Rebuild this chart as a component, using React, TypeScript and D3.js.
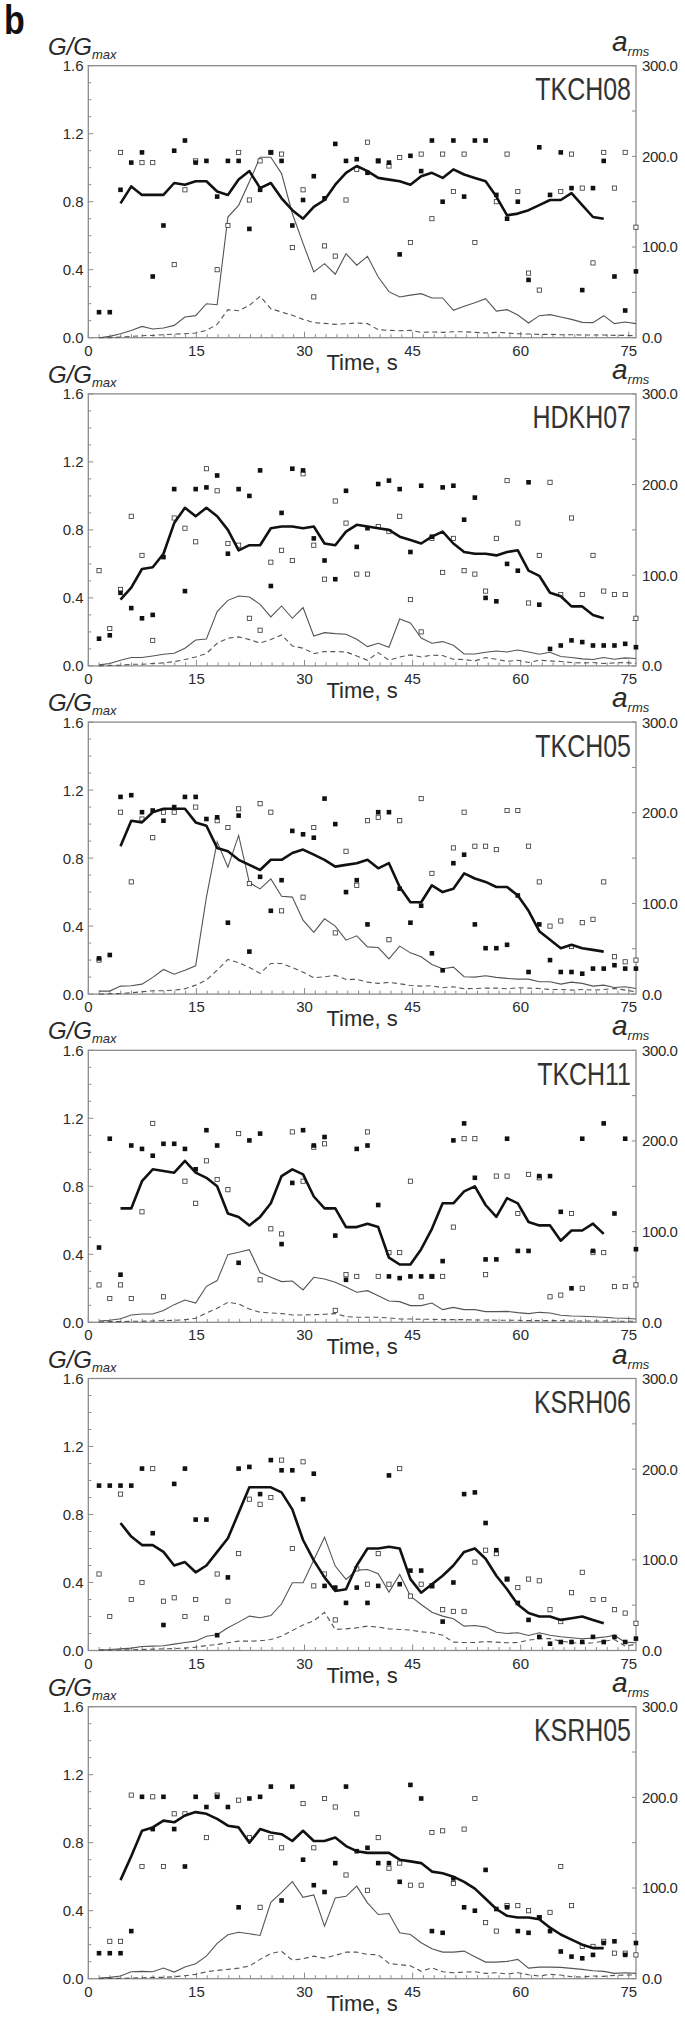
import React from 'react';
import * as d3 from 'd3';

// ---------- time grid (s) of the records ----------
const times = [1.49, 2.98, 4.47, 5.96, 7.45, 8.94, 10.43, 11.92, 13.41, 14.9, 16.39, 17.88, 19.37, 20.86, 22.35, 23.84, 25.33, 26.82, 28.31, 29.8, 31.29, 32.78, 34.27, 35.76, 37.25, 38.74, 40.23, 41.72, 43.21, 44.7, 46.19, 47.68, 49.17, 50.66, 52.15, 53.64, 55.13, 56.62, 58.11, 59.6, 61.09, 62.58, 64.07, 65.56, 67.05, 68.54, 70.03, 71.52, 73.01, 74.5, 75.99];
// the running-mean line starts at the third record
const MEAN_START = 2;

const xTicks = [0, 15, 30, 45, 60, 75];
const gTicks = [0, 0.4, 0.8, 1.2, 1.6];
const aTicks = [0, 100, 200, 300];

// ---------- TKCH08 ----------
const tkch08Filled = [0.15,0.15,0.87,1.03,1.09,0.36,0.66,1.10,1.16,1.03,1.04,0.83,1.04,1.04,0.64,0.87,1.09,1.04,0.66,0.81,0.95,0.82,1.14,1.04,1.05,0.97,1.04,1.03,0.49,1.07,0.98,1.16,0.80,1.16,0.83,1.16,1.16,0.84,0.70,0.80,0.34,1.12,0.84,1.09,0.88,0.28,0.88,1.04,0.36,0.16,0.39];
const tkch08Open = [null,null,1.09,null,1.03,1.03,null,0.43,0.87,1.04,null,0.40,0.66,1.09,0.81,1.04,1.09,1.08,0.53,0.87,0.24,0.54,0.48,0.81,0.99,1.15,1.04,1.01,1.06,0.56,1.08,0.70,1.08,0.86,1.08,0.56,null,0.80,1.08,0.86,0.38,0.28,null,0.86,1.08,0.88,0.44,1.09,0.88,1.09,0.65];
const tkch08Mean = [0.79,0.89,0.84,0.84,0.84,0.91,0.90,0.92,0.92,0.86,0.84,0.93,0.98,0.88,0.91,0.82,0.75,0.70,0.77,0.81,0.90,0.97,1.01,0.98,0.94,0.93,0.92,0.90,0.95,0.97,0.94,0.99,0.96,0.94,0.92,0.83,0.72,0.73,0.75,0.78,0.81,0.81,0.85,0.78,0.71,0.70];
const tkch08Arms = [0,1.5,4.4,8,12.5,9.6,10.7,13.6,22.8,24.3,37.5,36.4,133,146,172,199,199,181,137,104,72.5,81.7,70,92.7,80,89.8,67,50.8,44.9,47,48.6,43.8,43.8,30.2,34.6,38.6,43,29.4,30.9,25,16.2,24.3,25.4,22.8,20.2,16.9,16.6,24.3,15.5,17.3,15.5];
const tkch08Dash = [0,0,0.7,1.5,2.2,2.6,3.3,4,4.4,5.2,8.1,14.7,30.9,29.8,35.7,45.6,32,28.3,24.7,20.2,16.6,15.8,14.7,15.5,16.2,15.5,8.8,8.1,7.7,8.1,5.9,6.3,5.9,6.6,6.6,5.9,5.2,5.9,5.2,4.4,4,3.7,3.7,3.3,3.3,2.9,2.9,2.9,2.6,2.6,2.2];

// ---------- HDKH07 ----------
const hdkh07Filled = [0.16,0.18,0.43,0.34,0.28,0.30,0.64,1.04,0.44,1.04,1.05,1.12,0.66,1.04,1.00,1.15,0.47,0.90,1.16,1.15,0.75,0.62,0.51,1.03,0.70,0.81,1.07,1.09,1.04,0.67,1.06,0.76,1.05,1.06,0.86,0.99,0.40,0.38,0.60,0.56,1.08,0.36,0.10,0.12,0.15,0.14,0.12,0.12,0.12,0.13,0.11];
const hdkh07Open = [0.56,0.22,0.45,0.88,0.65,0.15,null,0.87,0.81,0.73,1.16,1.03,0.72,0.71,0.28,0.21,0.61,0.68,0.62,1.13,0.71,0.51,0.97,0.84,0.54,0.54,0.82,0.79,0.88,0.39,0.20,0.75,0.55,0.75,0.56,0.54,0.44,0.75,1.09,0.84,0.37,0.65,1.08,0.42,0.87,0.42,0.65,0.44,0.42,0.42,0.28];
const hdkh07Mean = [0.39,0.46,0.57,0.58,0.66,0.84,0.93,0.88,0.93,0.88,0.80,0.68,0.71,0.71,0.81,0.82,0.82,0.81,0.82,0.72,0.71,0.79,0.83,0.82,0.81,0.80,0.76,0.74,0.72,0.76,0.79,0.72,0.67,0.66,0.66,0.65,0.67,0.68,0.56,0.53,0.43,0.41,0.35,0.35,0.30,0.28];
const hdkh07Arms = [1.1,2.6,6.2,9.2,9.2,11,12.9,14,19.5,28.6,29.7,59.9,72.3,77.1,76,67.9,54,66.1,52.5,64.3,33,36.7,35.6,34.9,29.4,21.3,25,20.6,51.8,47.4,30.8,25,26.8,22.8,13.2,13.2,15.1,16.5,15.4,17.6,15.4,12.9,15.1,10.3,9.2,7.7,7,9.2,7.3,8.8,8.1];
const hdkh07Dash = [0,0.4,0.7,1.8,1.8,2.6,3.3,4.8,7,9.9,13.6,25,30.5,32,29,25.3,29,34.2,22,19.5,13.6,15.8,15.8,15.4,11,6.2,14.7,6.2,9.9,12.1,9.9,11.8,11.4,7.3,7,5.5,9.2,7.3,5.1,6.2,3.7,6.2,5.5,4.8,3.7,3.3,3.7,2.6,3.3,3.7,2.6];

// ---------- TKCH05 ----------
const tkch05Filled = [0.21,0.23,1.16,1.17,1.07,1.08,1.02,1.10,1.16,1.16,1.03,1.04,0.42,1.05,0.25,0.69,0.49,0.67,0.96,0.94,0.92,1.15,1.00,0.60,0.67,0.41,1.07,1.07,0.62,0.42,0.52,0.24,0.14,0.77,0.82,0.41,0.27,0.27,0.29,0.58,0.13,0.41,0.20,0.13,0.13,0.12,0.15,0.15,0.17,0.15,0.15];
const tkch05Open = [0.20,null,1.07,0.66,1.03,0.92,1.07,1.07,null,1.10,null,1.02,0.98,1.09,0.65,1.12,1.07,0.49,null,0.57,0.98,null,0.36,0.84,0.64,1.02,1.04,0.32,1.02,null,1.15,0.71,null,0.86,1.07,0.87,0.87,0.85,1.08,1.08,0.87,0.66,0.40,0.43,0.28,0.42,0.44,0.66,0.22,0.19,0.20];
const tkch05Mean = [0.87,1.02,1.01,1.07,1.09,1.09,1.09,1.01,0.99,0.86,0.84,0.79,0.76,0.73,0.79,0.79,0.83,0.85,0.82,0.79,0.75,0.76,0.77,0.79,0.74,0.77,0.63,0.54,0.54,0.64,0.60,0.62,0.71,0.68,0.66,0.63,0.63,0.58,0.49,0.37,0.32,0.27,0.29,0.27,0.26,0.25];
const tkch05Arms = [3.3,3.3,8.8,9.2,11,18.4,27.2,22,26.4,31.2,107,168,140,175,123,116,127,108,107,81.5,68,83,75,59.5,64.3,52.1,51.4,38.9,52.9,45.5,41.1,32.7,27.9,29.7,19.1,18.7,20.2,18.4,17.3,16.5,16.5,13.6,13.6,11,13.2,11.8,8.8,9.9,7.3,8.1,6.2];
const tkch05Dash = [0,0.4,0.7,1.5,2.6,3.7,3.7,4.4,5.9,9.9,15.4,26.4,38.2,34.5,29.4,22.8,33.8,33.8,29.4,24.2,18,19.1,20.6,16.2,16.2,13.2,11.8,12.9,11.4,9.5,8.8,9.2,7,8.1,5.9,6.2,6.6,6.6,5.9,7,6.6,6.2,5.1,5.1,4.4,5.1,4.4,5.1,6.2,4.4,2.6];

// ---------- TKCH11 ----------
const tkch11Filled = [0.44,1.08,0.28,1.04,1.02,0.98,1.05,1.05,1.02,0.90,1.13,1.04,null,0.35,1.07,1.11,null,0.46,0.82,1.13,1.04,1.09,0.51,0.25,1.02,1.04,0.69,0.27,0.26,0.27,0.27,0.27,0.36,1.07,1.17,0.85,0.37,0.37,1.08,0.42,0.42,0.86,0.86,0.65,0.20,1.08,0.42,1.17,0.64,1.08,0.43];
const tkch11Open = [0.22,0.14,0.22,0.14,0.65,1.17,0.15,null,0.83,0.70,0.95,0.84,0.78,1.11,null,0.25,0.55,0.52,1.12,0.83,1.03,1.05,0.07,0.28,0.27,1.12,0.27,0.41,0.41,0.83,0.15,0.27,0.27,0.56,1.08,1.08,0.28,0.86,0.86,0.64,0.87,0.85,0.15,0.16,0.64,0.20,0.41,0.41,0.21,0.21,0.22];
const tkch11Mean = [0.67,0.67,0.83,0.90,0.89,0.88,0.95,0.88,0.85,0.80,0.64,0.62,0.57,0.62,0.70,0.86,0.90,0.87,0.74,0.67,0.67,0.56,0.56,0.58,0.56,0.38,0.34,0.34,0.43,0.55,0.70,0.70,0.77,0.80,0.69,0.62,0.73,0.70,0.59,0.57,0.57,0.48,0.54,0.54,0.58,0.52];
const tkch11Arms = [1.5,2.2,4,8.1,9.2,9.2,12.9,19.5,24.6,21.3,39.7,46,74.6,77.2,80.1,54.8,49.6,44.9,45.6,35.7,49.6,47.8,44.1,39,33.1,34.9,29.4,23.5,22.8,18.4,18.4,21.3,14,16.5,14,14,11.8,11.8,12.1,10.7,9.6,11,10.3,7.7,7,6.6,6.2,5.5,4.8,4.4,3.7];
const tkch11Dash = [0.4,0.7,0.7,1.1,1.1,1.5,1.8,2.2,2.9,4.4,10.3,15.4,22.1,20.2,14.7,11,10.3,9.6,8.1,8.1,8.5,8.8,9.6,6.3,5.5,5.5,5.5,4.8,3.7,3.7,3.3,3.3,2.9,2.9,2.9,2.6,2.6,2.2,2.2,2.2,1.8,1.8,1.8,1.8,1.5,1.5,1.5,1.5,1.1,1.1,1.1];

// ---------- KSRH06 ----------
const ksrh06Filled = [0.97,0.97,0.97,0.97,1.07,0.69,0.15,0.98,1.07,0.77,0.77,0.09,0.43,1.07,1.08,0.92,1.12,1.06,1.06,0.89,1.04,0.38,0.37,0.28,0.37,0.28,0.38,1.03,0.39,0.47,0.47,0.38,0.17,0.40,0.92,0.93,0.75,0.59,0.42,0.28,0.18,0.08,0.04,0.05,0.05,0.05,0.08,0.05,0.08,0.05,0.07];
const ksrh06Open = [0.45,0.20,0.92,0.30,0.40,1.07,0.29,0.31,0.20,0.30,0.19,0.45,0.29,0.57,0.89,0.86,0.90,1.12,0.60,1.11,0.38,0.45,0.18,null,0.48,0.39,0.57,0.39,1.07,0.32,0.39,0.38,0.24,0.23,0.23,0.52,0.59,0.57,0.42,0.37,0.42,0.41,0.24,0.17,0.34,0.46,0.30,0.30,0.24,0.22,0.16];
const ksrh06Mean = [0.75,0.67,0.62,0.62,0.58,0.50,0.52,0.46,0.50,0.58,0.66,0.81,0.96,0.96,0.96,0.93,0.83,0.65,0.53,0.43,0.35,0.36,0.50,0.60,0.60,0.61,0.60,0.42,0.34,0.39,0.44,0.50,0.58,0.60,0.54,0.44,0.36,0.27,0.22,0.20,0.20,0.18,0.19,0.20,0.18,0.16];
const ksrh06Arms = [0.7,1.1,1.8,2.6,4.4,4.8,5.2,7,8.8,10.3,15.8,17.3,25,31.3,37.9,36.1,38.6,51.5,74.7,74.7,99.7,125,93.1,78.4,88.7,89.4,84.7,64.4,83.9,60,50.8,42.3,37.9,35,26.9,27.6,25.8,20.2,18.8,19.5,16.6,19.5,16.9,15.1,14,12.9,13.6,14.7,16.6,9.2,8.5];
const ksrh06Dash = [0.4,0.4,0.7,0.7,1.1,1.5,1.8,2.2,2.6,3.7,5.5,6.6,8.5,10.3,10.3,10.7,12.1,15.8,22.1,28,32.8,42,23.2,23.9,25,26.9,25.8,23.9,23.2,22.5,20.6,19.5,16.9,9.2,8.8,8.8,9.9,9.2,8.5,8.8,11.4,12.9,13.2,10.3,8.8,7.7,8.5,10.3,12.1,4.8,7];

// ---------- KSRH05 ----------
const ksrh05Filled = [0.15,0.15,0.15,0.28,1.07,0.88,1.07,0.88,0.66,1.07,1.01,1.07,1.01,0.42,1.06,1.07,1.13,0.46,1.13,0.70,0.55,0.51,0.68,1.13,0.75,0.77,0.68,0.68,0.57,1.14,1.06,0.28,0.27,0.59,0.42,0.40,0.64,0.41,0.42,0.28,0.27,0.36,0.28,0.16,0.13,0.12,0.14,0.21,0.22,0.14,0.21];
const ksrh05Open = [null,0.22,0.22,1.08,0.66,1.07,0.66,0.97,0.97,null,0.83,1.08,null,1.05,0.83,0.42,0.83,0.77,null,1.03,0.77,1.06,1.01,0.61,0.97,0.52,0.83,0.65,0.68,0.55,0.55,0.86,0.87,0.56,0.88,1.06,0.33,0.28,0.43,0.43,0.40,0.36,0.39,0.66,0.43,0.19,0.19,0.22,0.15,0.15,0.14];
const ksrh05Mean = [0.58,0.72,0.87,0.89,0.93,0.92,0.96,0.98,0.97,0.94,0.90,0.89,0.80,0.88,0.86,0.85,0.81,0.87,0.81,0.81,0.83,0.78,0.75,0.74,0.74,0.74,0.70,0.69,0.68,0.63,0.62,0.60,0.57,0.53,0.47,0.41,0.37,0.36,0.36,0.35,0.30,0.26,0.23,0.20,0.18,0.18];
const ksrh05Arms = [0.7,1.5,2.9,7.7,8.1,7.7,11.7,7.3,12.8,16.5,24.9,38.9,48.4,51.3,49.5,47.7,84.3,95.3,107,89.8,92.4,57.9,89.1,90.9,102,83.6,70.8,71.9,50.6,48.8,39.6,33,29.3,29.3,30.4,24.2,18.3,18.3,19.1,21.3,11.7,12.8,12.8,12.5,11.4,10.3,8.8,8.1,5.9,6.6,5.9];
const ksrh05Dash = [0,0.4,0.4,0.7,1.1,1.5,1.5,2.2,3.3,4.8,7.7,9.2,10.3,11.7,13.9,21.3,27.9,30.1,20.5,22,24.9,22.7,25.7,29.3,29.3,26.8,26.4,16.9,15.4,14.3,8.1,12.1,7.7,6.6,7.3,7.7,5.9,6.6,5.1,6.6,4.4,2.9,4.8,4,2.2,1.8,2.9,2.6,3.7,4,4];

const panelNames = ['TKCH08', 'HDKH07', 'TKCH05', 'TKCH11', 'KSRH06', 'KSRH05'];

const panels = [
  { name: panelNames[0], filled: tkch08Filled, open: tkch08Open, mean: tkch08Mean, arms: tkch08Arms, dash: tkch08Dash },
  { name: panelNames[1], filled: hdkh07Filled, open: hdkh07Open, mean: hdkh07Mean, arms: hdkh07Arms, dash: hdkh07Dash },
  { name: panelNames[2], filled: tkch05Filled, open: tkch05Open, mean: tkch05Mean, arms: tkch05Arms, dash: tkch05Dash },
  { name: panelNames[3], filled: tkch11Filled, open: tkch11Open, mean: tkch11Mean, arms: tkch11Arms, dash: tkch11Dash },
  { name: panelNames[4], filled: ksrh06Filled, open: ksrh06Open, mean: ksrh06Mean, arms: ksrh06Arms, dash: ksrh06Dash },
  { name: panelNames[5], filled: ksrh05Filled, open: ksrh05Open, mean: ksrh05Mean, arms: ksrh05Arms, dash: ksrh05Dash },
];

// ---------- layout ----------
const W = 685;
const H = 2019;
const X0 = 88.3;
const X1 = 636;
const TOP0 = 65.7;
const STEP_Y = 328.2;
const PH = 272;
const FONT = "'Liberation Sans', Arial, Helvetica, sans-serif";
const AXIS = '#8c8c8c';
const TXT = '#2a2a2a';
const SQF = 4.6;
const SQO = 4.2;

type P = { name: string; filled: (number | null)[]; open: (number | null)[]; mean: number[]; arms: number[]; dash: number[] };

function Panel({ p, top }: { p: P; top: number }) {
  const bottom = top + PH;
  const x = d3.scaleLinear().domain([0, 76]).range([X0, X1]);
  const yG = d3.scaleLinear().domain([0, 1.6]).range([bottom, top]);
  const yA = d3.scaleLinear().domain([0, 300]).range([bottom, top]);

  const lineA = d3.line<number>().x((_, i) => x(times[i])).y(d => yA(d));
  const lineM = d3.line<number>().x((_, i) => x(times[i + MEAN_START])).y(d => yG(d));

  const xMinor = d3.range(0, 75.01, 1.5);
  const gMinor = d3.range(0, 1.601, 0.1);
  const aMinor = d3.range(0, 301, 50);
  const fmt = d3.format('.1f');

  return (
    <g>
      {/* frame */}
      <rect x={X0} y={top} width={X1 - X0} height={PH} fill="none" stroke={AXIS} strokeWidth={1.3} />
      {/* x ticks (inside) */}
      {xMinor.map((t, i) => {
        const major = Math.abs(t % 15) < 1e-6;
        return <line key={'xt' + i} x1={x(t)} x2={x(t)} y1={bottom} y2={bottom - (major ? 6 : 3.5)} stroke={AXIS} strokeWidth={1} />;
      })}
      {gMinor.map((g, i) => (
        <line key={'gt' + i} x1={X0} x2={X0 + (i % 4 === 0 ? 5 : 3)} y1={yG(g)} y2={yG(g)} stroke={AXIS} strokeWidth={1} />
      ))}
      {aMinor.map((a, i) => (
        <line key={'at' + i} x1={X1} x2={X1 - 4} y1={yA(a)} y2={yA(a)} stroke={AXIS} strokeWidth={1} />
      ))}
      {/* tick labels */}
      {gTicks.map((g, i) => (
        <text key={'gl' + i} x={83.5} y={yG(g)} dy="0.36em" textAnchor="end" fontSize={15} fill={TXT} fontFamily={FONT}>{fmt(g)}</text>
      ))}
      {aTicks.map((a, i) => (
        <text key={'al' + i} x={642} y={yA(a)} dy="0.36em" textAnchor="start" fontSize={15} fill={TXT} fontFamily={FONT} letterSpacing={-0.4}>{fmt(a)}</text>
      ))}
      {xTicks.map((t, i) => (
        <text key={'xl' + i} x={x(t)} y={bottom + 18} textAnchor="middle" fontSize={15} fill={TXT} fontFamily={FONT}>{t}</text>
      ))}
      {/* axis titles */}
      <text x={48} y={top - 11} fontSize={24} fontStyle="italic" fill={TXT} fontFamily={FONT}>
        G/G<tspan fontSize={13} dy={4}>max</tspan>
      </text>
      <text x={612} y={top - 15} fontSize={28} fontStyle="italic" fill={TXT} fontFamily={FONT}>
        a<tspan fontSize={13} dy={5}>rms</tspan>
      </text>
      <text x={(X0 + X1) / 2} y={bottom + 32} textAnchor="middle" fontSize={22} fill={TXT} fontFamily={FONT}>Time, s</text>
      {/* panel label */}
      <text transform={`translate(${X1 - 5},${top + 34.5}) scale(0.78,1)`} textAnchor="end" fontSize={32} fill="#333" fontFamily={FONT}>{p.name}</text>

      {/* thin & dashed (right axis) */}
      <path d={lineA(p.arms) || ''} fill="none" stroke="#555" strokeWidth={1.1} />
      <path d={lineA(p.dash) || ''} fill="none" stroke="#555" strokeWidth={1.1} strokeDasharray="5,3.5" />

      {/* scatter */}
      {p.open.map((v, i) => v == null ? null : (
        <rect key={'o' + i} x={x(times[i]) - SQO / 2} y={yG(v) - SQO / 2} width={SQO} height={SQO} fill="#fff" stroke="#333" strokeWidth={0.8} />
      ))}
      {p.filled.map((v, i) => v == null ? null : (
        <rect key={'f' + i} x={x(times[i]) - SQF / 2} y={yG(v) - SQF / 2} width={SQF} height={SQF} fill="#111" />
      ))}

      {/* running mean */}
      <path d={lineM(p.mean) || ''} fill="none" stroke="#111" strokeWidth={2.6} strokeLinejoin="round" />
    </g>
  );
}

export default function App() {
  return (
    <svg width={W} height={H} viewBox={`0 0 ${W} ${H}`} style={{ position: 'absolute', left: 0, top: 0, background: '#fff' }}>
      <rect x={0} y={0} width={W} height={H} fill="#fff" />
      <text transform="translate(4,34) scale(0.85,1)" fontSize={40} fontWeight="bold" fill="#111" fontFamily={FONT}>b</text>
      {panels.map((p, i) => (
        <Panel key={p.name} p={p} top={TOP0 + i * STEP_Y} />
      ))}
    </svg>
  );
}
